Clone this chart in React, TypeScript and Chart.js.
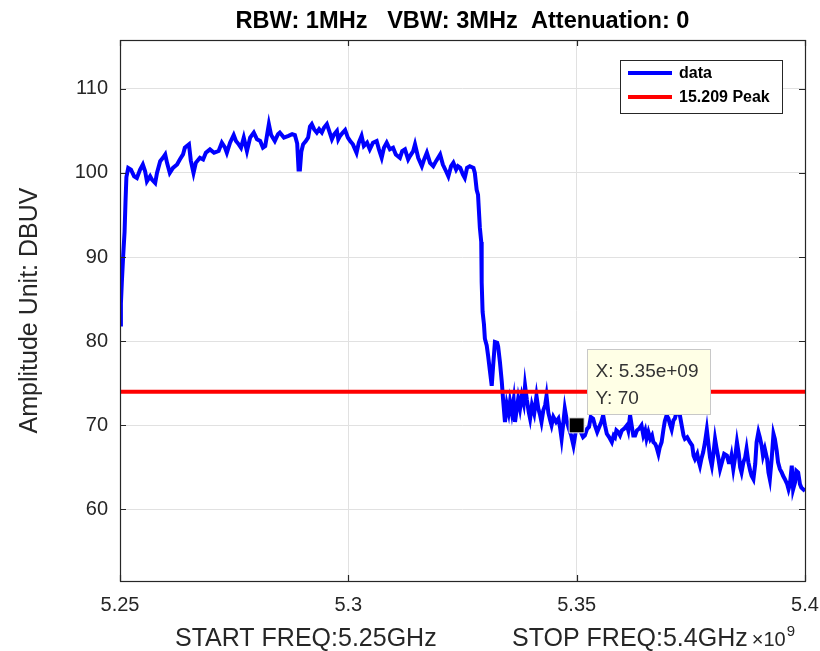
import React, { useEffect, useRef } from "react";
import { Chart, registerables } from "chart.js";

Chart.register(...registerables);

// ---------------- data ----------------
const freqGHz = [
  5.25, 5.2502, 5.2504, 5.2507, 5.251, 5.2512, 5.2514, 5.2518, 5.2524, 5.2531,
  5.2537, 5.2544, 5.255, 5.2555, 5.2559, 5.2566, 5.257, 5.2577, 5.2581, 5.2588,
  5.2594, 5.2599, 5.2603, 5.2609, 5.2616, 5.2625, 5.2631, 5.2638, 5.2642, 5.2651,
  5.2655, 5.2661, 5.2666, 5.2675, 5.2682, 5.2688, 5.2697, 5.2706, 5.2716, 5.2723,
  5.273, 5.2734, 5.2741, 5.2749, 5.2754, 5.276, 5.2765, 5.2771, 5.2778, 5.2785,
  5.2793, 5.28, 5.2807, 5.2813, 5.2818, 5.2822, 5.2826, 5.2831, 5.2839, 5.2846,
  5.285, 5.2859, 5.2869, 5.2877, 5.2883, 5.2888, 5.2891, 5.2894, 5.2897, 5.2901,
  5.2907, 5.2912, 5.2916, 5.292, 5.2925, 5.2931, 5.2936, 5.2942, 5.2947, 5.2953,
  5.2958, 5.2964, 5.2969, 5.2975, 5.2978, 5.2982, 5.2988, 5.2993, 5.2999, 5.3004,
  5.301, 5.3018, 5.3023, 5.3029, 5.3034, 5.3041, 5.3047, 5.3054, 5.3062, 5.3067,
  5.3073, 5.3078, 5.3084, 5.3091, 5.3098, 5.3104, 5.3113, 5.3118, 5.3124, 5.3131,
  5.3135, 5.3142, 5.3146, 5.3153, 5.3161, 5.3166, 5.3172, 5.3179, 5.3186, 5.3192,
  5.3201, 5.3207, 5.3214, 5.3219, 5.3225, 5.323, 5.3236, 5.324, 5.3245, 5.3251,
  5.3255, 5.326, 5.3266, 5.3274, 5.3277, 5.3281, 5.3284, 5.3288, 5.3291, 5.3292,
  5.3294, 5.3297, 5.3299, 5.3303, 5.3306, 5.331, 5.3314, 5.3317, 5.3321, 5.3326,
  5.3328, 5.3332, 5.3336, 5.3339, 5.3343, 5.3347, 5.3351, 5.3354, 5.3358, 5.3362,
  5.3365, 5.3369, 5.3372, 5.3376, 5.338, 5.3384, 5.3387, 5.3391, 5.3395, 5.3398,
  5.3402, 5.3407, 5.3412, 5.3416, 5.342, 5.3423, 5.3427, 5.3431, 5.3434, 5.3438,
  5.3442, 5.3445, 5.3449, 5.3455, 5.346, 5.3464, 5.3467, 5.3471, 5.3474, 5.3479,
  5.3483, 5.3488, 5.3493, 5.3496, 5.35, 5.3505, 5.3509, 5.3514, 5.3518, 5.3523,
  5.3527, 5.3531, 5.3536, 5.354, 5.3545, 5.3551, 5.3554, 5.3558, 5.3562, 5.3566,
  5.3571, 5.3577, 5.3581, 5.3584, 5.3587, 5.3591, 5.3595, 5.3599, 5.3604, 5.361,
  5.3613, 5.3617, 5.3621, 5.3624, 5.3628, 5.3632, 5.3637, 5.3642, 5.3646, 5.365,
  5.3653, 5.3657, 5.3661, 5.3665, 5.3668, 5.3672, 5.3675, 5.3679, 5.3682, 5.3686,
  5.369, 5.3693, 5.3697, 5.3701, 5.3704, 5.3708, 5.3712, 5.3715, 5.3719, 5.3723,
  5.3726, 5.373, 5.3734, 5.3737, 5.3742, 5.3748, 5.3753, 5.3756, 5.3759, 5.3764,
  5.3767, 5.377, 5.3773, 5.3777, 5.3781, 5.3785, 5.3789, 5.3792, 5.3796, 5.3799,
  5.3803, 5.3806, 5.381, 5.3814, 5.3818, 5.3823, 5.3829, 5.3833, 5.3836, 5.3839,
  5.3843, 5.3847, 5.3851, 5.3855, 5.3858, 5.3861, 5.3865, 5.3869, 5.3872, 5.3876,
  5.388, 5.3883, 5.3887, 5.3891, 5.3894, 5.3898, 5.3901, 5.3905, 5.3908, 5.3912,
  5.3917, 5.392, 5.3923, 5.3927, 5.3931, 5.3934, 5.3938, 5.3941, 5.3945, 5.3949,
  5.3952, 5.3956, 5.3961, 5.3964, 5.3967, 5.3971, 5.3974, 5.3978, 5.3981, 5.3985,
  5.3989, 5.3992, 5.3996, 5.4,
];

const amplitudeDBuV = [
  82.0, 84.5, 87.0, 90.2, 93.0, 96.5, 99.5, 100.6, 100.4, 99.6,
  99.4, 100.4, 101.0, 100.2, 99.0, 99.6, 99.2, 98.8, 100.0, 101.4,
  101.8, 102.2, 101.2, 100.0, 100.6, 101.0, 101.6, 102.2, 103.0, 103.4,
  101.5, 100.0, 101.2, 101.8, 101.6, 102.4, 102.8, 102.4, 102.6, 103.6,
  103.0, 102.4, 103.6, 104.5, 103.8, 103.4, 103.0, 104.2, 102.6, 104.2,
  104.8, 104.0, 103.8, 103.0, 103.2, 104.5, 105.8, 104.5, 103.8, 104.6,
  104.8, 104.2, 104.4, 104.6, 104.5, 103.5, 100.4, 100.4, 102.5, 103.4,
  103.8, 104.2, 105.5, 105.8, 105.2, 104.8, 105.2, 104.8, 105.4, 105.8,
  105.0, 104.0, 104.6, 105.0, 104.0, 104.4, 104.8, 105.1, 104.2, 103.8,
  103.4, 102.4, 103.6, 104.4, 103.2, 103.6, 102.8, 103.6, 103.8, 102.8,
  101.8, 103.0, 103.6, 102.8, 103.0, 102.2, 101.8, 102.6, 102.8, 101.6,
  102.0, 102.6, 103.4, 101.8, 100.8, 101.6, 102.4, 101.2, 100.8, 101.4,
  102.2, 101.0, 100.2, 99.6, 100.8, 101.2, 100.4, 100.8, 100.6, 99.8,
  99.4, 100.6, 100.8, 100.6, 100.0, 98.0, 97.4, 93.5, 91.8, 87.0,
  83.5, 82.0, 80.3, 79.5, 78.3, 76.5, 74.7, 77.0, 79.9, 79.8,
  79.4, 77.5, 75.2, 73.0, 70.4, 72.5, 71.5, 72.8, 71.5, 73.0,
  70.4, 72.0, 73.2, 72.0, 73.5, 72.6, 74.7, 73.0, 71.6, 70.8,
  72.4, 71.4, 73.5, 72.0, 71.2, 70.4, 71.8, 72.4, 73.5, 71.5,
  70.6, 70.0, 71.0, 70.4, 70.8, 69.6, 68.4, 70.4, 72.0, 70.4,
  69.6, 68.8, 67.6, 68.6, 70.0, 69.8, 69.2, 68.6, 68.8, 69.6,
  69.8, 71.0, 70.8, 70.0, 69.2, 70.0, 70.4, 71.2, 70.0, 69.0,
  68.6, 68.0, 68.8, 68.6, 69.4, 69.2, 68.8, 69.4, 69.6, 70.0,
  69.4, 71.2, 69.8, 68.8, 68.8, 69.4, 69.6, 70.0, 68.8, 69.4,
  68.4, 69.2, 68.4, 68.8, 68.0, 67.8, 67.4, 66.6, 67.4, 68.0,
  69.5, 70.5, 71.2, 70.8, 70.2, 69.5, 70.6, 70.8, 71.6, 72.0,
  71.2, 70.0, 68.8, 68.4, 68.6, 68.0, 67.6, 66.4, 66.0, 66.6,
  65.8, 65.2, 66.0, 66.8, 68.0, 69.5, 67.6, 66.2, 65.2, 66.4,
  68.4, 67.4, 66.2, 64.8, 65.6, 66.6, 66.4, 65.6, 65.6, 66.4,
  64.8, 66.2, 68.0, 66.6, 65.0, 64.4, 65.6, 66.2, 67.2, 65.6,
  64.6, 64.0, 63.6, 65.4, 68.0, 69.2, 68.6, 67.6, 66.4, 67.2,
  66.0, 64.4, 63.6, 66.0, 69.0, 68.4, 67.0, 65.6, 64.8, 64.4,
  64.0, 63.6, 63.0, 62.4, 63.0, 65.2, 62.4, 63.2, 64.6, 64.4,
  63.0, 62.6, 62.4, 62.2,
];

const seriesNames = ["data", "15.209 Peak"];
const limitFreqGHz = [5.25, 5.4];
const limitDBuV = [74, 74];
const markerFreqGHz = [5.35];
const markerDBuV = [70];

const xRange = [5.25, 5.4];
const yRange = [51.5, 115.8];
const xTickValues = [5.25, 5.3, 5.35, 5.4];
const xTickLabels = ["5.25", "5.3", "5.35", "5.4"];
const yTickValues = [60, 70, 80, 90, 100, 110];
const yTickLabels = ["60", "70", "80", "90", "100", "110"];

const titleText = "RBW: 1MHz   VBW: 3MHz  Attenuation: 0";
const xTitleStart = "START FREQ:5.25GHz";
const xTitleStop = "STOP FREQ:5.4GHz";
const yTitleText = "Amplitude Unit: DBUV";

// ---------------- styling ----------------
const FONT = "'Liberation Sans', Arial, Helvetica, sans-serif";
const AXIS = "#262626";
const GRID = "#e1e1e1";

function formatExp(v: number) {
  const e = Math.floor(Math.log10(Math.abs(v)));
  const m = v / Math.pow(10, e);
  return `${parseFloat(m.toFixed(2))}e+${String(e).padStart(2, "0")}`;
}

const decorPlugin = {
  id: "decor",
  beforeDraw(chart: any) {
    const ctx = chart.ctx;
    ctx.save();
    ctx.fillStyle = "#ffffff";
    ctx.fillRect(0, 0, chart.width, chart.height);
    ctx.restore();
  },
  afterDraw(chart: any) {
    const ctx = chart.ctx;
    const a = chart.chartArea;
    const xs = chart.scales.x;
    const ys = chart.scales.y;
    ctx.save();

    // axes box
    ctx.strokeStyle = AXIS;
    ctx.lineWidth = 1.2;
    ctx.strokeRect(Math.round(a.left) + 0.5, Math.round(a.top) + 0.5, Math.round(a.right - a.left), Math.round(a.bottom - a.top));

    // inward tick marks
    const tl = 6;
    ctx.beginPath();
    yTickValues.forEach((v) => {
      const py = Math.round(ys.getPixelForValue(v)) + 0.5;
      ctx.moveTo(a.left, py);
      ctx.lineTo(a.left + tl, py);
      ctx.moveTo(a.right, py);
      ctx.lineTo(a.right - tl, py);
    });
    xTickValues.forEach((v) => {
      const px = Math.round(xs.getPixelForValue(v)) + 0.5;
      ctx.moveTo(px, a.bottom);
      ctx.lineTo(px, a.bottom - tl);
      ctx.moveTo(px, a.top);
      ctx.lineTo(px, a.top + tl);
    });
    ctx.stroke();

    // title
    ctx.fillStyle = "#000000";
    ctx.font = `bold 23.6px ${FONT}`;
    ctx.textAlign = "center";
    ctx.textBaseline = "alphabetic";
    ctx.fillText(titleText, (a.left + a.right) / 2, 28);

    // x title
    ctx.fillStyle = AXIS;
    ctx.font = `25px ${FONT}`;
    ctx.textAlign = "left";
    ctx.fillText(xTitleStart, 175, 646);
    ctx.fillText(xTitleStop, 512, 646);
    const stopW = ctx.measureText(xTitleStop).width;
    ctx.font = `20px ${FONT}`;
    const xPos = 512 + stopW + 4;
    ctx.fillText("\u00d710", xPos, 646);
    const w10 = ctx.measureText("\u00d710").width;
    ctx.font = `15px ${FONT}`;
    ctx.fillText("9", xPos + w10 + 1, 636);

    // y title
    ctx.save();
    ctx.translate(37, (a.top + a.bottom) / 2);
    ctx.rotate(-Math.PI / 2);
    ctx.font = `25px ${FONT}`;
    ctx.textAlign = "center";
    ctx.textBaseline = "alphabetic";
    ctx.fillText(yTitleText, 0, 0);
    ctx.restore();

    // legend
    const ds = chart.data.datasets;
    const lx = Math.round(a.right - 185);
    const ly = Math.round(a.top + 20);
    const lw = 162;
    const lh = 53;
    ctx.fillStyle = "#ffffff";
    ctx.fillRect(lx, ly, lw, lh);
    ctx.strokeStyle = AXIS;
    ctx.lineWidth = 1;
    ctx.strokeRect(lx + 0.5, ly + 0.5, lw, lh);
    ctx.font = `bold 16px ${FONT}`;
    ctx.textBaseline = "middle";
    ctx.textAlign = "left";
    [0, 1].forEach((i) => {
      const d = ds.find((q: any) => q.label === seriesNames[i]);
      const yy = ly + 13 + i * 24;
      ctx.strokeStyle = d.borderColor;
      ctx.lineWidth = 4;
      ctx.beginPath();
      ctx.moveTo(lx + 8, yy);
      ctx.lineTo(lx + 52, yy);
      ctx.stroke();
      ctx.fillStyle = "#000000";
      ctx.fillText(seriesNames[i], lx + 59, yy + 1);
    });

    // data tip
    const mx = xs.getPixelForValue(markerFreqGHz[0]);
    const my = ys.getPixelForValue(markerDBuV[0]);
    const bx = Math.round(mx + 10) + 0.5;
    const by = Math.round(my - 76) + 0.5;
    const bw = 123;
    const bh = 65;
    ctx.fillStyle = "#ffffe6";
    ctx.fillRect(bx, by, bw, bh);
    ctx.strokeStyle = "#c8c8c8";
    ctx.lineWidth = 1;
    ctx.strokeRect(bx, by, bw, bh);
    ctx.fillStyle = "#333333";
    ctx.font = `19px ${FONT}`;
    ctx.textBaseline = "alphabetic";
    ctx.textAlign = "left";
    ctx.fillText(`X: ${formatExp(markerFreqGHz[0] * 1e9)}`, bx + 8, by + 27);
    ctx.fillText(`Y: ${markerDBuV[0]}`, bx + 8, by + 54);

    ctx.restore();
  },
};

export default function App() {
  const canvasRef = useRef<HTMLCanvasElement | null>(null);

  useEffect(() => {
    if (!canvasRef.current) return;
    const chart = new Chart(canvasRef.current, {
      type: "line",
      data: {
        datasets: [
          {
            label: "marker",
            data: markerFreqGHz.map((f, i) => ({ x: f, y: markerDBuV[i] })),
            showLine: false,
            pointStyle: "rect",
            pointRadius: 10.6,
            pointBackgroundColor: "#000000",
            pointBorderColor: "#eeeeee",
            pointBorderWidth: 1,
            order: 0,
          },
          {
            label: seriesNames[1],
            data: limitFreqGHz.map((f, i) => ({ x: f, y: limitDBuV[i] })),
            borderColor: "#ff0000",
            borderWidth: 4,
            pointRadius: 0,
            order: 1,
          },
          {
            label: seriesNames[0],
            data: freqGHz.map((f, i) => ({ x: f, y: amplitudeDBuV[i] })),
            borderColor: "#0000ff",
            borderWidth: 4,
            pointRadius: 0,
            tension: 0,
            borderJoinStyle: "miter",
            order: 2,
          },
        ],
      },
      options: {
        responsive: false,
        animation: false,
        events: [],
        layout: { padding: { left: 0, right: 15, top: 40, bottom: 0 } },
        plugins: {
          legend: { display: false },
          tooltip: { enabled: false },
          title: { display: false },
        },
        scales: {
          x: {
            type: "linear",
            min: xRange[0],
            max: xRange[1],
            afterBuildTicks: (s: any) => {
              s.ticks = xTickValues.map((v) => ({ value: v }));
            },
            afterFit: (s: any) => {
              s.height = 70;
              s.paddingLeft = 0;
              s.paddingRight = 0;
            },
            ticks: {
              callback: (_v: any, i: number) => xTickLabels[i],
              font: { size: 20, family: FONT },
              color: AXIS,
              padding: 12,
              maxRotation: 0,
              autoSkip: false,
            },
            grid: { color: GRID, drawTicks: false, lineWidth: 1 },
            border: { display: false },
          },
          y: {
            type: "linear",
            min: yRange[0],
            max: yRange[1],
            afterBuildTicks: (s: any) => {
              s.ticks = yTickValues.map((v) => ({ value: v }));
            },
            afterFit: (s: any) => {
              s.width = 120;
              s.paddingTop = 0;
              s.paddingBottom = 0;
            },
            ticks: {
              callback: (_v: any, i: number) => yTickLabels[i],
              font: { size: 20, family: FONT },
              color: AXIS,
              padding: 12,
              autoSkip: false,
            },
            grid: { color: GRID, drawTicks: false, lineWidth: 1 },
            border: { display: false },
          },
        },
      },
      plugins: [decorPlugin],
    });
    return () => chart.destroy();
  }, []);

  return (
    <div style={{ position: "fixed", left: 0, top: 0, width: 820, height: 651, background: "#fff" }}>
      <canvas ref={canvasRef} width={820} height={651} style={{ display: "block" }} />
    </div>
  );
}
